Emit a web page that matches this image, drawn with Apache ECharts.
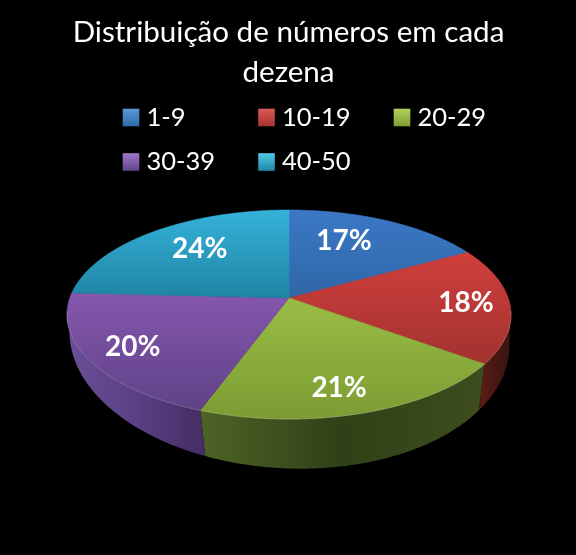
<!DOCTYPE html>
<html><head><meta charset="utf-8">
<style>html,body{margin:0;padding:0;background:#000}#c{width:576px;height:555px}</style>
<script src="https://cdn.jsdelivr.net/npm/echarts@6/dist/echarts.min.js"></script>
</head><body><div id="c"></div>
<script>
const chartTitle = 'Distribuição de números em cada\ndezena';
const categories = ['1-9', '10-19', '20-29', '30-39', '40-50'];
// shares; labels show them rounded
const shares = [17, 18, 20.6, 20.2, 24.2];

// Fills: top face [upper, lower], side face [left, mid, right]
const topColors = [['#3b78c6','#2f67a6'],['#d03f3c','#a2322f'],['#9abd45','#7c9c33'],['#8657ad','#5f4288'],['#35b2da','#1f84a3']];
const sideColors = [['#244f80','#244f80','#244f80'],['#5a1d18','#4a1712','#3a1410'],['#4f6226','#2f4116','#3d4d1e'],['#6b4f98','#5a4084','#432d62'],['#1d6f88','#1d6f88','#1d6f88']];
const iconColors = [['#5b9be0','#2f67a6'],['#e05a55','#a2322f'],['#b5d35c','#7c9c33'],['#a37bcb','#5f4288'],['#55cbec','#1f84a3']];
// label placement inside a slice: radius fraction, turn from mid angle (deg)
const labelPlace = [[.672,-6.4],[.802,.2],[.8,2.4],[.8,-0.6],[.678,3.1]];

// Projection of the tilted disc: upper face and (perspective-enlarged) floor ring
const TOP_RING = {cx:289, cy:298, rx:219.2, ry:101.9, k:-0.158, shear:0};
const FLOOR_RING = {cx:289.5, cy:323.9, rx:218.6, ry:128.4, k:-0.112, shear:0.03};
const WALL_FROM = 97, WALL_TO = 263;
function proj(deg, r, ring){
  const a = deg * Math.PI / 180, U = r * Math.sin(a), V = -r * Math.cos(a), w = 1 + ring.k * V;
  const dx = ring.rx * U / w;
  return [ring.cx + dx, ring.cy + ring.ry * V / w + ring.shear * dx];
}
function arc(a, b, ring){ const p = []; const n = Math.max(2, Math.ceil(Math.abs(b - a) * 2));
  for (let i = 0; i <= n; i++) p.push(proj(a + (b - a) * i / n, 1, ring)); return p; }
function grad(c, horiz){ return {type:'linear',x:0,y:0,x2:horiz?1:0,y2:horiz?0:1,
  colorStops:c.map((col,i)=>({offset:i/(c.length-1),color:col}))}; }

const total = shares.reduce((a, b) => a + b, 0);
function renderSlice(params, api){
  const i = params.seriesIndex, v = api.value(0);
  let before = 0; for (let j = 0; j < i; j++) before += shares[j];
  const a = before / total * 360, b = (before + v) / total * 360, kids = [];
  const lo = Math.max(a, WALL_FROM), hi = Math.min(b, WALL_TO);
  if (hi > lo) kids.push({type:'polygon', z2:1, shape:{points:arc(lo,hi,TOP_RING).concat(arc(hi,lo,FLOOR_RING))},
    style:{fill:grad(sideColors[i],true)}});
  const fill = grad(topColors[i],false);
  kids.push({type:'polygon', z2:2, shape:{points:[[TOP_RING.cx,TOP_RING.cy]].concat(arc(a,b,TOP_RING))},
    style:{fill:fill, stroke:fill, lineWidth:.6}});
  if (hi > lo) kids.push({type:'polyline', z2:3, shape:{points:arc(lo,hi,TOP_RING)},
    style:{fill:null, stroke:'rgba(255,255,255,.22)', lineWidth:1}});
  const pl = labelPlace[i], mid = (a + b) / 2 + pl[1], pos = proj(mid, pl[0], TOP_RING);
  kids.push({type:'text', z2:4, x:pos[0], y:pos[1], style:{text:Math.round(v / total * 100) + '%',
    fill:'#fff', align:'center', verticalAlign:'middle', font:'bold 28px Lato',
    shadowBlur:3, shadowColor:'rgba(0,0,0,.5)', shadowOffsetY:1}});
  return {type:'group', children:kids};
}

const chart = echarts.init(document.getElementById('c'), null, {renderer:'canvas'});
chart.setOption({
  backgroundColor:'#000', animation:false,
  title:{text:chartTitle, left:283.5, top:7, textAlign:'center',
    textStyle:{color:'#fff', fontFamily:'Lato', fontWeight:'normal', fontSize:29.6, lineHeight:40}},
  legend:{left:122, top:102, width:420, padding:0, orient:'horizontal', itemGap:13.5, itemWidth:17, itemHeight:18, icon:'rect',
    textStyle:{color:'#fff', fontFamily:'Lato', fontSize:25.5, width:97.5, lineHeight:31, padding:[0,0,0,2]},
    data:categories.map((n,i)=>({name:n, itemStyle:{color:grad(iconColors[i],false), borderColor:'rgba(0,0,0,.4)', borderWidth:1}}))},
  series:categories.map((n,i)=>({type:'custom', name:n, coordinateSystem:'none', silent:true,
    renderItem:renderSlice, data:[[shares[i]]]}))
});
</script></body></html>
